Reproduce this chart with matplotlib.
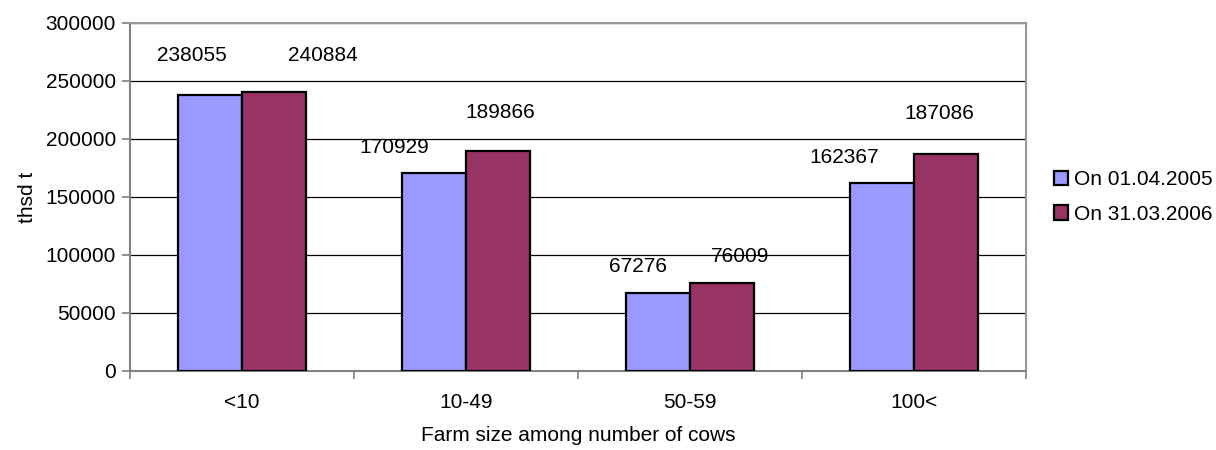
import matplotlib
matplotlib.use("Agg")
import matplotlib.pyplot as plt
import numpy as np

plt.rcParams["font.family"] = ["Liberation Sans", "DejaVu Sans"]

# ── Data ──────────────────────────────────────────────────────────────────────
categories = ["<10", "10-49", "50-59", "100<"]
series_names = ["On 01.04.2005", "On 31.03.2006"]
values_2005 = [238055, 170929, 67276, 162367]
values_2006 = [240884, 189866, 76009, 187086]
y_ticks = [0, 50000, 100000, 150000, 200000, 250000, 300000]

# label nudges (pixels) relative to each bar top centre, as placed in the original
label_dx = [[-18, -40, -20, -38], [49, 2, 18, -7]]
label_dy = [[39, 25, 26, 25], [36, 38, 26, 40]]

colors = ["#9999FF", "#993366"]
FS = 15

fig = plt.figure(figsize=(12.16, 4.5), dpi=100)
ax = fig.add_axes([0.1069, 0.1756, 0.7369, 0.7733])

x = np.arange(len(categories))
width = 0.2857
for i, vals in enumerate([values_2005, values_2006]):
    pos = x + (i - 0.5) * width
    ax.bar(pos, vals, width, color=colors[i], edgecolor="black", linewidth=1.6,
           label=series_names[i], zorder=3)
    for j, v in enumerate(vals):
        ax.annotate(str(v), (pos[j], v), xytext=(label_dx[i][j], label_dy[i][j]),
                    textcoords="offset pixels", ha="center", va="center",
                    fontsize=FS, color="black")

ax.set_xlim(-0.5, len(categories) - 0.5)
ax.set_ylim(0, 300000)
ax.set_yticks(y_ticks)
ax.set_yticklabels([str(t) for t in y_ticks], fontsize=FS)
ax.yaxis.grid(True, color="black", linewidth=0.9, zorder=0)
ax.set_axisbelow(True)

ax.set_xticks(x)
ax.set_xticklabels(categories, fontsize=FS)
ax.tick_params(axis="x", which="major", length=0, pad=16)
ax.set_xticks(np.arange(len(categories) + 1) - 0.5, minor=True)
ax.tick_params(axis="x", which="minor", length=6, color="#808080", width=1.2)
ax.tick_params(axis="y", length=6, color="#808080", width=1.2, pad=4)

for side in ["left", "bottom"]:
    ax.spines[side].set_color("#808080")
    ax.spines[side].set_linewidth(1.5)
for side in ["top", "right"]:
    ax.spines[side].set_color("#999999")
    ax.spines[side].set_linewidth(1.5)

ax.set_ylabel("thsd t", fontsize=FS, labelpad=6)
ax.set_xlabel("Farm size among number of cows", fontsize=FS, labelpad=10)

leg = ax.legend(loc="center left", bbox_to_anchor=(1.031, 0.5), frameon=False,
                fontsize=FS, handlelength=0.68, handleheight=0.68,
                handletextpad=0.3, labelspacing=0.75, borderaxespad=0.0,
                borderpad=0.0)

fig.savefig("out.png", dpi=100)
